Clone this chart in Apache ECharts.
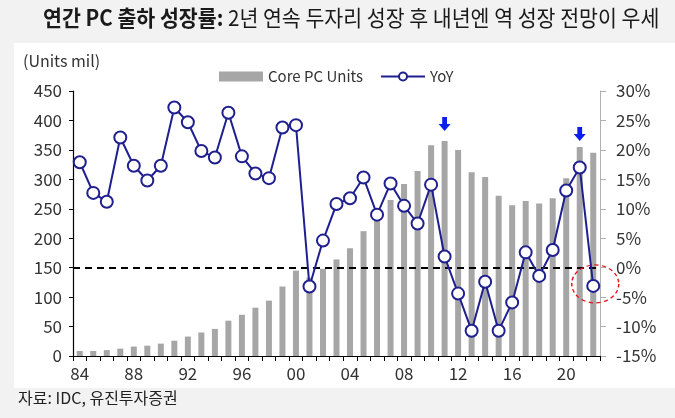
<!DOCTYPE html>
<html>
<head>
<meta charset="utf-8">
<script src="https://cdn.jsdelivr.net/npm/echarts@6/dist/echarts.min.js"></script>
<style>html,body{margin:0;padding:0;background:#f2f2f2}#c{width:675px;height:418px}</style>
</head>
<body>
<div id="c"></div>
<script>
const years = ['84','85','86','87','88','89','90','91','92','93','94','95','96','97','98','99','00','01','02','03','04','05','06','07','08','09','10','11','12','13','14','15','16','17','18','19','20','21','22'];
const units = [8.5,8.5,10,12.5,16,17.5,21,26,33,40,46,60,70,82,94,118,145,133,148,164,183,212,234,265,292,314,358,365,350,312,304,272,256,263,259,268,302,355,345];
const yoy = [17.9,12.7,11.2,22.1,17.3,14.8,17.3,27.2,24.7,19.8,18.7,26.3,18.9,16.0,15.2,23.8,24.2,-3.2,4.6,10.8,11.8,15.3,9.0,14.3,10.5,7.5,14.1,1.9,-4.4,-10.7,-2.4,-10.7,-5.9,2.6,-1.4,3.0,13.1,17.0,-3.1];
const leftTicks = {min:0, max:450, interval:50};
const rightTicks = {min:-15, max:30, interval:5};

const chart = echarts.init(document.getElementById('c'), null, {renderer:'canvas'});
const font = 'Noto Sans CJK KR';
const arrowPath = 'path://M3,0 L7,0 L7,6 L10,6 L5,12 L0,6 L3,6 Z';
chart.setOption({
  backgroundColor:'#f2f2f2',
  animation:false,
  textStyle:{fontFamily:font},
  graphic:[
    {type:'rect', z:-10, shape:{x:14,y:43,width:661,height:345}, style:{fill:'#ffffff'}},
    {type:'text', x:43, y:7, scaleX:0.935, z:10, style:{
      rich:{b:{fontSize:22,fontWeight:'bold',fill:'#1a1a1a',fontFamily:font},
            n:{fontSize:22,fill:'#1a1a1a',fontFamily:font}},
      text:'{b|연간 PC 출하 성장률:}{n| 2년 연속 두자리 성장 후 내년엔 역 성장 전망이 우세}'}},
    {type:'text', x:23, y:53, style:{text:'(Units mil)', fontSize:16, fill:'#333', fontFamily:font}},
    {type:'text', x:18, y:390, style:{text:'자료: IDC, 유진투자증권', fontSize:16, fill:'#222', fontFamily:font}}
  ],
  legend:{
    left:214, top:64, itemWidth:44, itemHeight:10, itemGap:17,
    textStyle:{fontSize:15, color:'#333', fontFamily:font},
    data:[{name:'Core PC Units', icon:'rect'},{name:'YoY'}]
  },
  grid:{left:73, right:75, top:91, bottom:62},
  xAxis:{
    type:'category', data:years, boundaryGap:true,
    axisLine:{lineStyle:{color:'#000', width:1.2}},
    axisTick:{show:true, interval:0, length:5, lineStyle:{color:'#000'}},
    axisLabel:{interval:3, fontSize:17, color:'#333', margin:9}
  },
  yAxis:[
    {type:'value', min:leftTicks.min, max:leftTicks.max, interval:leftTicks.interval,
     axisLine:{show:true, lineStyle:{color:'#000', width:1.2}},
     axisTick:{show:true, length:4, lineStyle:{color:'#000'}},
     splitLine:{show:false},
     axisLabel:{fontSize:17, color:'#333', margin:11}},
    {type:'value', min:rightTicks.min, max:rightTicks.max, interval:rightTicks.interval, position:'right',
     axisLine:{show:true, lineStyle:{color:'#b0b0b0', width:1}},
     axisTick:{show:true, length:6, lineStyle:{color:'#b0b0b0'}},
     splitLine:{show:false},
     axisLabel:{fontSize:17, color:'#333', margin:16, formatter:'{value}%'}}
  ],
  series:[
    {name:'Core PC Units', type:'bar', data:units, yAxisIndex:0, barWidth:6,
     itemStyle:{color:'#a6a6a6'},
     markPoint:{symbol:arrowPath, symbolSize:[12,14], itemStyle:{color:'#0a1ef0'}, label:{show:false},
       data:[{coord:['11',365], symbolOffset:[0,-17]},{coord:['21',355], symbolOffset:[0,-13]}]}},
    {name:'YoY', type:'line', data:yoy, yAxisIndex:1, z:5,
     symbol:'circle', symbolSize:12, showAllSymbol:true,
     lineStyle:{color:'#1f1f8f', width:2},
     itemStyle:{color:'#ffffff', borderColor:'#1f1f8f', borderWidth:2},
     markLine:{silent:true, symbol:'none', label:{show:false},
       lineStyle:{color:'#000', type:[7,5], width:2},
       data:[{yAxis:0}]},
     markPoint:{symbol:'circle', symbolSize:[47,38], label:{show:false}, silent:true,
       itemStyle:{color:'rgba(0,0,0,0)', borderColor:'#e8131b', borderType:[4,3], borderWidth:1.3},
       data:[{coord:['22',-3.1], symbolOffset:[2,-2]}]}}
  ]
});
</script>
</body>
</html>
